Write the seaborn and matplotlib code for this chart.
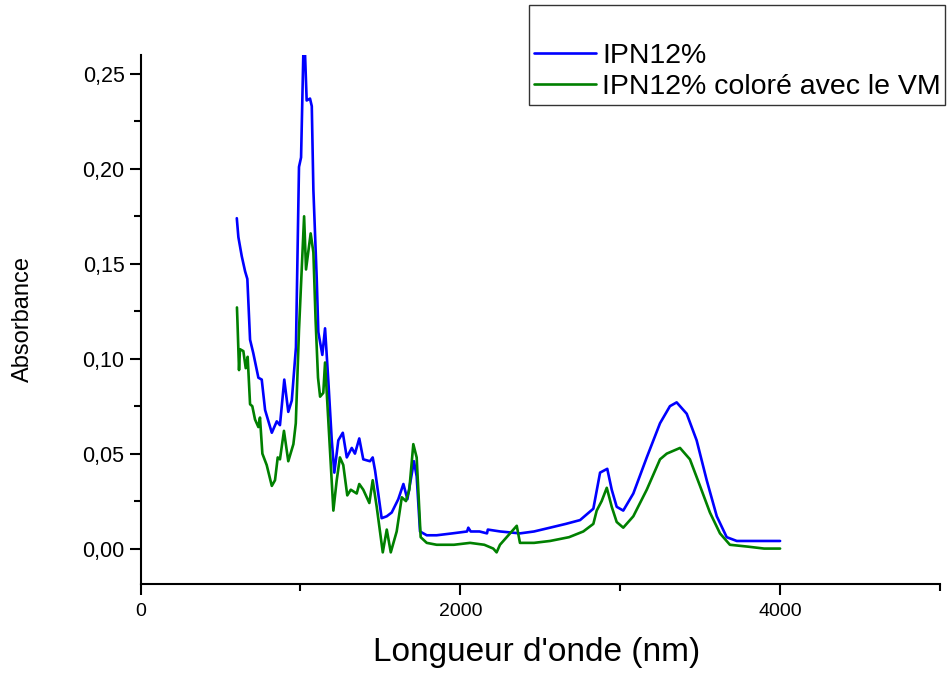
import pandas as pd
import matplotlib.pyplot as plt
import seaborn as sns
from matplotlib.ticker import FuncFormatter, MultipleLocator

# IPN12% (blue)
wl_ipn = [602, 612, 633, 654, 668, 685, 705, 737, 758, 779, 821, 852, 872, 899,
          924, 946, 972, 991, 1004, 1018, 1029, 1039, 1060, 1071, 1081, 1102, 1112,
          1137, 1154, 1174, 1196, 1212, 1237, 1265, 1290, 1321, 1341, 1368, 1393,
          1435, 1452, 1467, 1508, 1540, 1571, 1612, 1644, 1669, 1710, 1727, 1748,
          1790, 1852, 1950, 2042, 2050, 2065, 2120, 2167, 2172, 2250, 2373, 2461,
          2561, 2660, 2749, 2832, 2874, 2919, 2947, 2978, 3019, 3082, 3166, 3249,
          3311, 3353, 3416, 3478, 3541, 3604, 3666, 3729, 3800, 3900, 4000]
abs_ipn = [0.174, 0.164, 0.154, 0.146, 0.142, 0.110, 0.103, 0.090, 0.089, 0.073,
           0.061, 0.067, 0.065, 0.089, 0.072, 0.078, 0.106, 0.201, 0.206, 0.260,
           0.260, 0.236, 0.237, 0.233, 0.189, 0.142, 0.114, 0.102, 0.116, 0.089,
           0.057, 0.040, 0.057, 0.061, 0.048, 0.053, 0.050, 0.058, 0.047, 0.046,
           0.048, 0.041, 0.016, 0.017, 0.019, 0.026, 0.034, 0.026, 0.046, 0.038,
           0.009, 0.007, 0.007, 0.008, 0.009, 0.011, 0.009, 0.009, 0.008, 0.010,
           0.009, 0.008, 0.009, 0.011, 0.013, 0.015, 0.021, 0.040, 0.042, 0.031,
           0.022, 0.020, 0.029, 0.048, 0.066, 0.075, 0.077, 0.071, 0.057, 0.036,
           0.017, 0.006, 0.004, 0.004, 0.004, 0.004]

# IPN12% coloré avec le VM (green)
wl_vm = [603, 606, 616, 622, 643, 658, 670, 685, 699, 716, 737, 747, 762, 789,
         821, 841, 858, 872, 897, 924, 956, 971, 991, 1023, 1035, 1064, 1081, 1095,
         1110, 1123, 1143, 1154, 1174, 1206, 1227, 1247, 1268, 1293, 1315, 1352,
         1368, 1393, 1431, 1452, 1477, 1515, 1540, 1565, 1602, 1634, 1660, 1681,
         1706, 1727, 1752, 1790, 1852, 1960, 2061, 2150, 2206, 2227, 2248, 2311,
         2353, 2373, 2461, 2561, 2680, 2769, 2832, 2853, 2884, 2916, 2947, 2978,
         3019, 3082, 3166, 3249, 3291, 3374, 3436, 3499, 3561, 3624, 3686, 3800,
         3900, 4000]
abs_vm = [0.127, 0.120, 0.094, 0.105, 0.104, 0.095, 0.101, 0.076, 0.075, 0.068,
          0.064, 0.069, 0.050, 0.044, 0.033, 0.036, 0.048, 0.047, 0.062, 0.046,
          0.055, 0.066, 0.115, 0.175, 0.147, 0.166, 0.156, 0.120, 0.090, 0.080,
          0.082, 0.098, 0.068, 0.020, 0.036, 0.048, 0.044, 0.028, 0.031, 0.029,
          0.034, 0.031, 0.024, 0.036, 0.022, -0.002, 0.010, -0.002, 0.009, 0.027,
          0.025, 0.031, 0.055, 0.048, 0.006, 0.003, 0.002, 0.002, 0.003, 0.002,
          0.000, -0.002, 0.002, 0.008, 0.012, 0.003, 0.003, 0.004, 0.006, 0.009,
          0.013, 0.020, 0.025, 0.032, 0.022, 0.014, 0.011, 0.017, 0.031, 0.047,
          0.050, 0.053, 0.047, 0.033, 0.019, 0.008, 0.002, 0.001, 0.000, 0.000]

label_ipn = "IPN12%"
label_vm = "IPN12% coloré avec le VM"

df = pd.concat([
    pd.DataFrame({"wl": wl_ipn, "abs": abs_ipn, "serie": label_ipn}),
    pd.DataFrame({"wl": wl_vm, "abs": abs_vm, "serie": label_vm}),
])

sns.set_style("ticks")
plt.rcParams["font.family"] = ["Liberation Sans", "DejaVu Sans"]
plt.rcParams["text.color"] = "black"
plt.rcParams["axes.labelcolor"] = "black"

fig = plt.figure(figsize=(9.47, 6.73), dpi=100)
ax = fig.add_axes([0.1484, 0.1327, 0.8442, 0.7857])

sns.lineplot(data=df, x="wl", y="abs", hue="serie", estimator=None, sort=False,
             palette={label_ipn: "#0000ff", label_vm: "#008000"}, linewidth=1.9,
             ax=ax)

ax.set_xlim(0, 5000)
ax.set_ylim(-0.0185, 0.26)
ax.xaxis.set_major_locator(MultipleLocator(2000))
ax.xaxis.set_minor_locator(MultipleLocator(1000))
ax.yaxis.set_major_locator(MultipleLocator(0.05))
ax.yaxis.set_minor_locator(MultipleLocator(0.025))
ax.yaxis.set_major_formatter(FuncFormatter(lambda v, p: f"{v:.2f}".replace(".", ",")))

sns.despine(ax=ax)
for s in ["left", "bottom"]:
    ax.spines[s].set_linewidth(1.5)
    ax.spines[s].set_color("black")
ax.tick_params(which="both", colors="black", width=1.5)
ax.tick_params(which="major", length=8)
ax.tick_params(which="minor", length=5)
ax.tick_params(axis="y", labelsize=15.5)
ax.tick_params(axis="x", labelsize=14, pad=6)

ax.set_xlabel("Longueur d'onde (nm)", fontsize=24)
ax.xaxis.set_label_coords(0.495, -0.1)
ax.set_ylabel("Absorbance", fontsize=17)
ax.yaxis.set_label_coords(-0.133, 0.5)

leg = ax.legend(loc="upper right", bbox_to_anchor=(0.998, 0.993), bbox_transform=fig.transFigure,
                title=" ", title_fontsize=21, fontsize=20.5, frameon=True, fancybox=False,
                handlelength=2.2, handletextpad=0.2, borderpad=0.15, labelspacing=0.2,
                borderaxespad=0)
leg.get_frame().set_edgecolor("black")
leg.get_frame().set_linewidth(1)

fig.savefig("out.png", dpi=100)
